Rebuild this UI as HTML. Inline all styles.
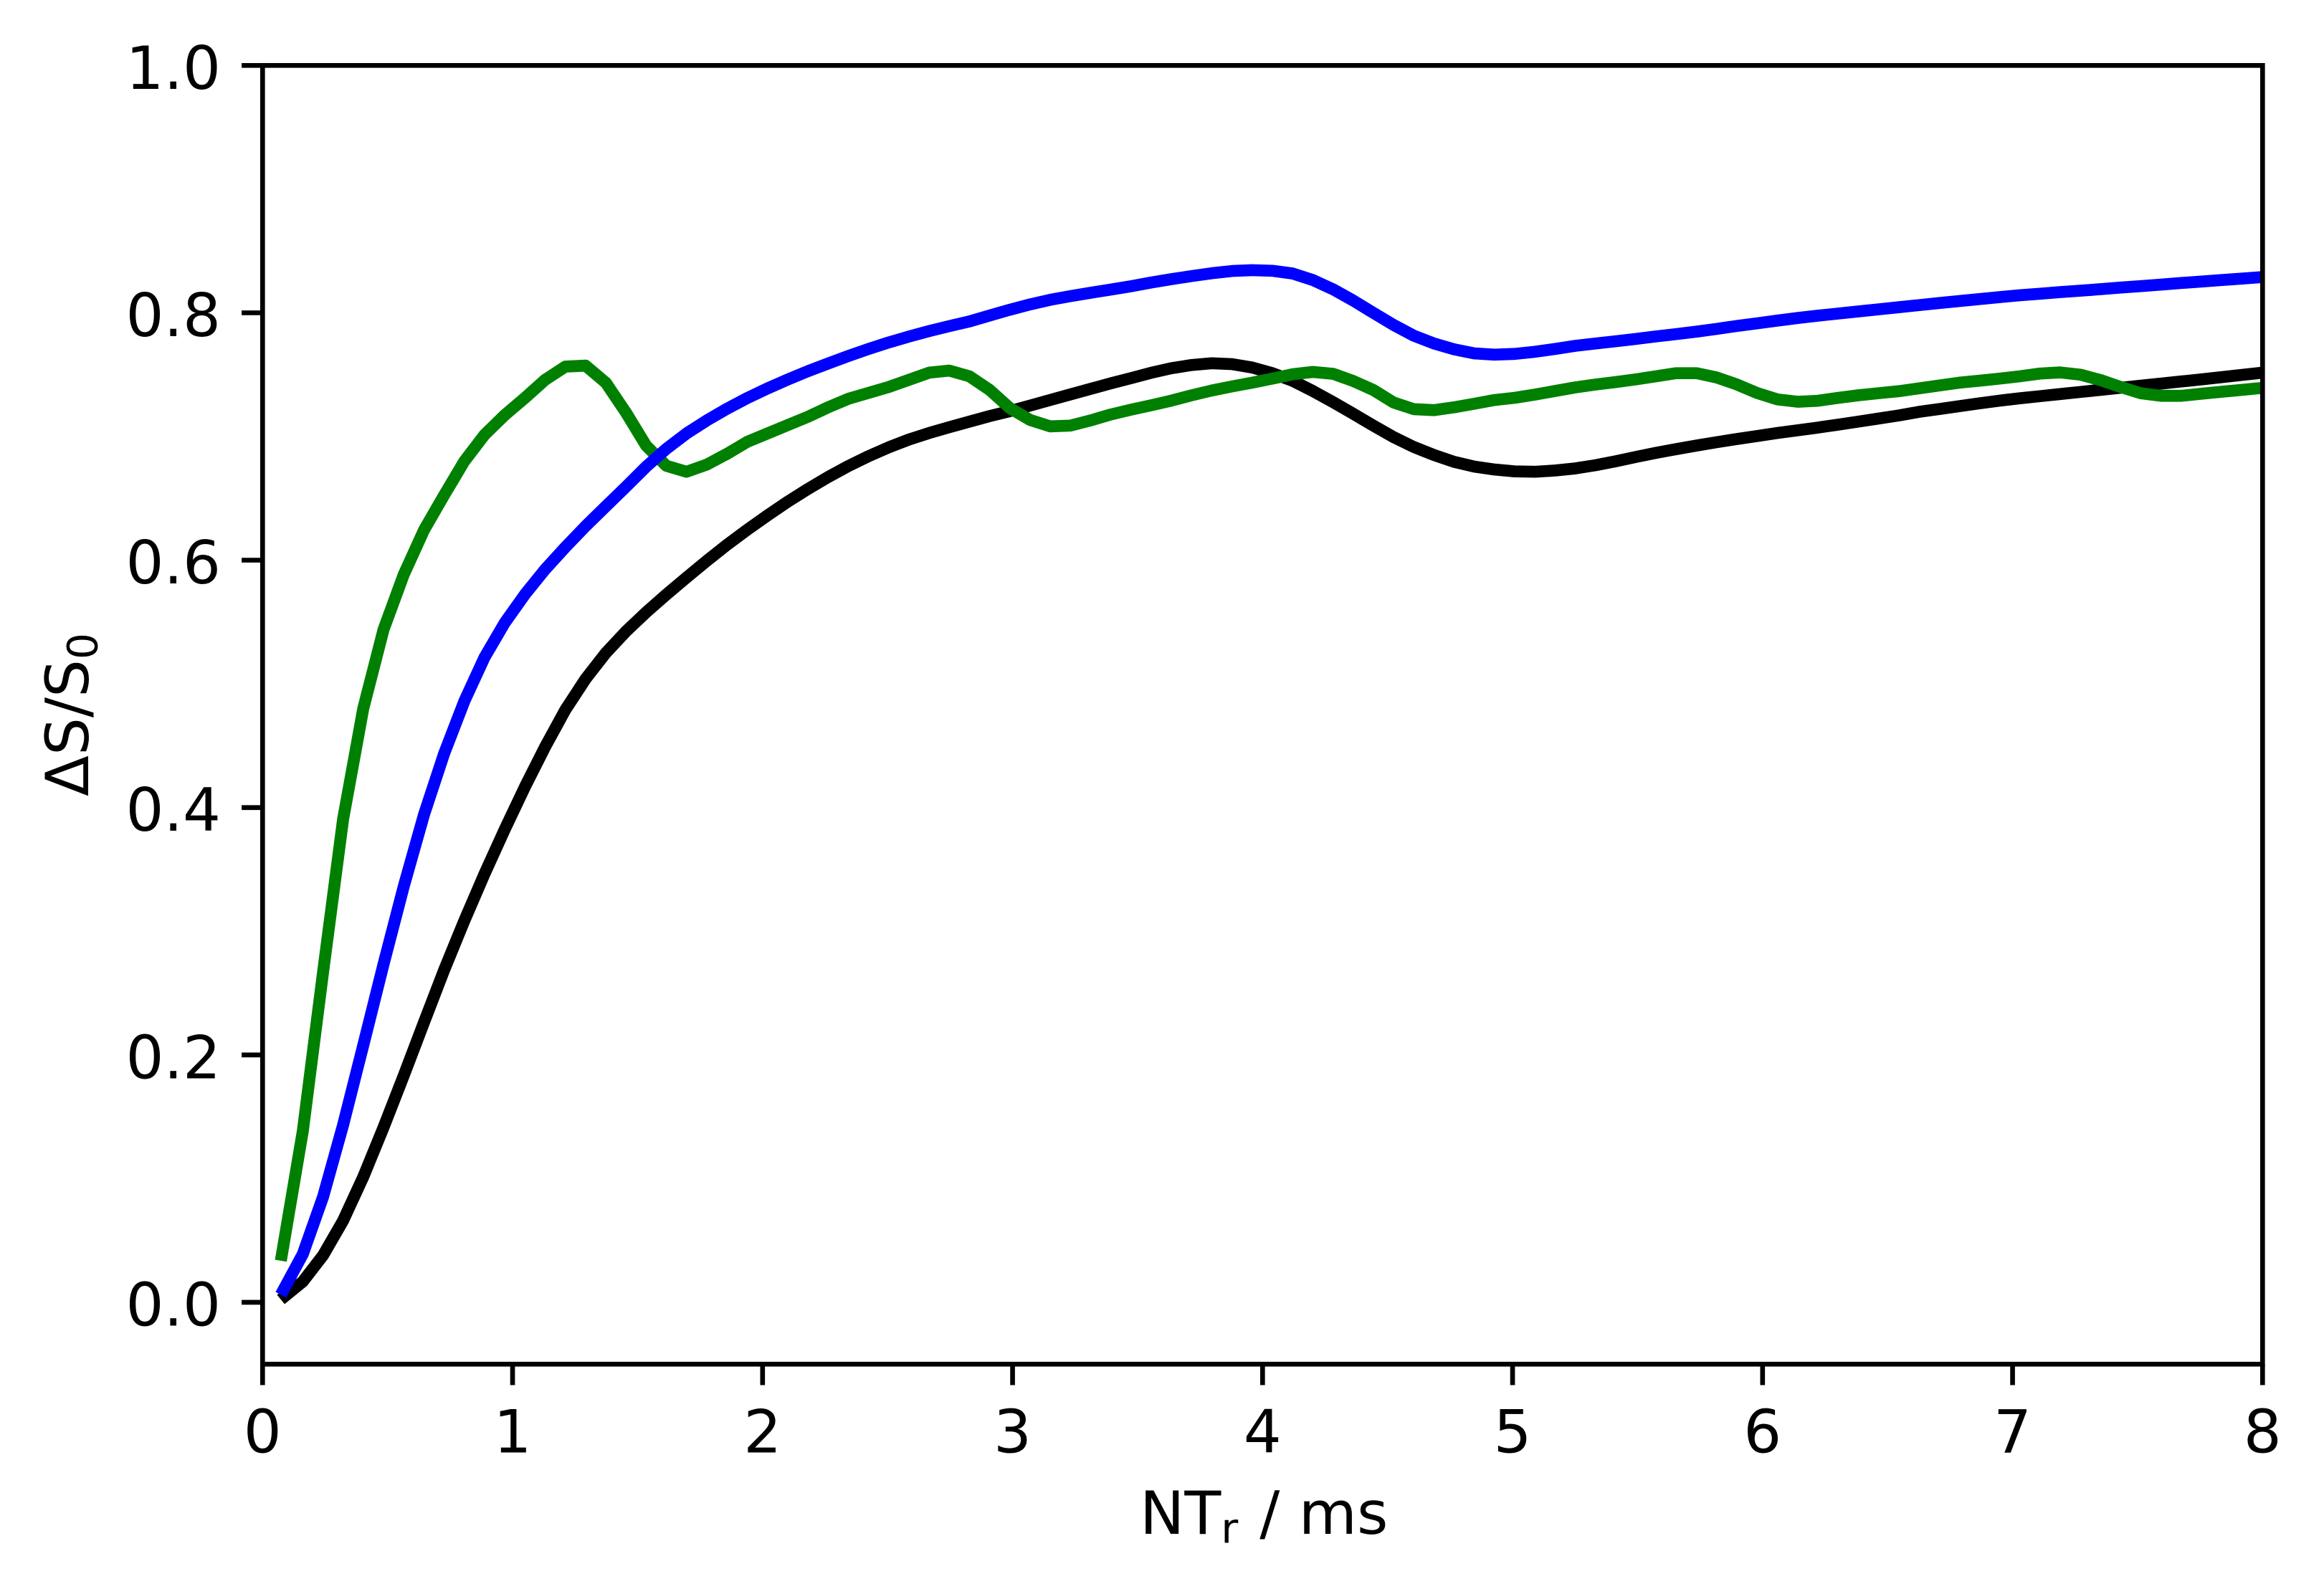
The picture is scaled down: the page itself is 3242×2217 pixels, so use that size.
<!DOCTYPE html>
<html lang="en">
<head>
<meta charset="utf-8">
<title>Delta S over S0 versus NTr</title>
<style>
html,body{margin:0;padding:0;background:#fff;}
svg{display:block;}
text{font-family:"DejaVu Sans","Liberation Sans",sans-serif;font-size:83.33px;fill:#000;}
</style>
</head>
<body>
<svg id="chart" xmlns="http://www.w3.org/2000/svg" width="3242" height="2217" viewBox="0 0 3242 2217">
  <rect x="0" y="0" width="3242" height="2217" fill="#ffffff"/>
  <defs>
    <clipPath id="plot-clip"><rect x="366.3" y="91.3" width="2790" height="1812"/></clipPath>
  </defs>
  <g id="series-layer" clip-path="url(#plot-clip)"></g>
  <g id="tick-layer"></g>
  <g id="spine-layer"></g>
  <text x="1590" y="2140">NT<tspan dy="12.7" style="font-size:58.33px">r</tspan><tspan dy="-12.7" dx="3.5" xml:space="preserve"> / ms</tspan></text>
  <text transform="translate(123 1111) rotate(-90)" x="0" y="0">ΔS/S<tspan dy="12.7" style="font-size:58.33px">0</tspan></text>
</svg>
<script>
const xDomain = [0, 8];
const yDomain = [-0.05, 1.0];
const xTickLabels = ["0", "1", "2", "3", "4", "5", "6", "7", "8"];
const yTickLabels = ["0.0", "0.2", "0.4", "0.6", "0.8", "1.0"];
const nTr = [
  0.073,0.161,0.242,0.322,0.403,0.484,0.565,0.646,0.726,0.807,
  0.888,0.969,1.050,1.130,1.211,1.292,1.373,1.454,1.534,1.615,
  1.696,1.777,1.858,1.938,2.019,2.100,2.181,2.262,2.342,2.423,
  2.504,2.585,2.666,2.746,2.827,2.908,2.989,3.070,3.150,3.231,
  3.312,3.393,3.474,3.554,3.635,3.716,3.797,3.878,3.958,4.039,
  4.120,4.201,4.282,4.362,4.443,4.524,4.605,4.686,4.766,4.847,
  4.928,5.009,5.090,5.170,5.251,5.332,5.413,5.494,5.574,5.655,
  5.736,5.817,5.898,5.978,6.059,6.140,6.221,6.302,6.382,6.463,
  6.544,6.625,6.706,6.786,6.867,6.948,7.029,7.110,7.190,7.271,
  7.352,7.433,7.514,7.594,7.675,7.756,7.837,7.918,8.000
];
const signalBlack = [
  .0023,.0168,.038,.066,.1015,.1415,.1835,.2265,.2685,.3085,
  .3465,.3825,.417,.449,.479,.504,.525,.5425,.5578,.5722,
  .586,.5995,.6125,.6245,.6361,.6472,.6575,.6672,.676,.684,
  .6912,.6975,.7028,.7075,.712,.7165,.7205,.725,.7295,.734,
  .7385,.743,.7472,.7515,.7552,.7578,.7592,.7585,.7558,.7512,
  .745,.7368,.7278,.7185,.7088,.6995,.6915,.685,.6795,.6757,
  .6733,.6718,.6715,.6725,.6742,.6768,.68,.6835,.6868,.6898,
  .6927,.6954,.698,.7004,.7028,.705,.7072,.7096,.712,.7145,
  .717,.7199,.7222,.7245,.7268,.729,.7309,.7326,.7343,.736,
  .7377,.7394,.7411,.7428,.7445,.7462,.748,.7498,.7516
];
const signalGreen = [
  .0336,.1385,.267,.3905,.4803,.544,.5885,.6245,.6525,.68,
  .7014,.7174,.7313,.7458,.7565,.7573,.7435,.7192,.6927,.6763,
  .6715,.6773,.686,.6956,.7024,.7092,.7159,.7236,.7304,.7352,
  .74,.7458,.7516,.7533,.7487,.7377,.723,.7134,.7082,.7088,
  .713,.7178,.7217,.7252,.729,.7333,.7372,.7405,.7435,.7468,
  .7503,.7522,.7507,.7449,.7376,.7275,.7221,.7213,.7236,.7265,
  .7295,.7313,.7339,.7368,.7397,.742,.744,.7462,.7487,.7512,
  .7512,.7477,.742,.7352,.73,.7281,.7289,.7312,.7333,.735,
  .7366,.7389,.7412,.7435,.7451,.7468,.7487,.7509,.7518,.75,
  .7456,.74,.7349,.7329,.7329,.7346,.7362,.7377,.7393
];
const signalBlue = [
  .0061,.039,.0853,.1433,.208,.2735,.3365,.3945,.4435,.486,
  .5215,.5495,.5725,.5925,.6105,.6275,.6435,.6594,.6755,.69,
  .7025,.713,.7225,.731,.7388,.746,.7528,.759,.765,.7707,
  .776,.7808,.7852,.7892,.793,.7978,.8025,.8068,.8105,.8135,
  .8162,.8188,.8215,.8245,.8272,.8297,.832,.8338,.8345,.834,
  .8318,.8265,.819,.81,.8,.7902,.7815,.7752,.7705,.7672,
  .7662,.7668,.7685,.7708,.7733,.7752,.777,.7789,.7809,.7828,
  .7848,.787,.7894,.7915,.7937,.7958,.7977,.7994,.8011,.8028,
  .8045,.8062,.8079,.8095,.8111,.8127,.8142,.8154,.8167,.8179,
  .8191,.8204,.8216,.8228,.8241,.8253,.8265,.8277,.8289
];

const SVG_NS = "http://www.w3.org/2000/svg";
const plotLeft = 366.3, plotRight = 3156.3, plotTop = 91.3, plotBottom = 1903.3;
const tickLen = 29.2, tickWidth = 6.67, lineWidth = 16.67;

function xScale(v) {
  return plotLeft + (v - xDomain[0]) / (xDomain[1] - xDomain[0]) * (plotRight - plotLeft);
}
function yScale(v) {
  return plotBottom - (v - yDomain[0]) / (yDomain[1] - yDomain[0]) * (plotBottom - plotTop);
}
function make(tag) {
  return document.createElementNS(SVG_NS, tag);
}
function drawSeries(values, color, name) {
  const el = make("polyline");
  
  
  el.setAttribute("points", values.map((v, i) => xScale(nTr[i]).toFixed(2) + "," + yScale(v).toFixed(2)).join(" "));
  el.setAttribute("fill", "none");
  el.setAttribute("stroke", color);
  el.setAttribute("stroke-width", lineWidth);
  el.setAttribute("stroke-linejoin", "round");
  el.setAttribute("stroke-linecap", "butt");
  document.getElementById("series-layer").appendChild(el);
}
drawSeries(signalBlack, "#000000", "series-black-line");
drawSeries(signalGreen, "#008000", "series-green-line");
drawSeries(signalBlue, "#0000ff", "series-blue-line");

const tickLayer = document.getElementById("tick-layer");
xTickLabels.forEach(function (label) {
  const px = xScale(parseFloat(label));
  const tick = make("line");
  
  
  tick.setAttribute("x1", px);
  tick.setAttribute("x2", px);
  tick.setAttribute("y1", plotBottom);
  tick.setAttribute("y2", plotBottom + tickLen);
  tick.setAttribute("stroke", "#000");
  tick.setAttribute("stroke-width", tickWidth);
  tickLayer.appendChild(tick);
  const text = make("text");
  
  
  text.setAttribute("x", px);
  text.setAttribute("y", 2026.5);
  text.setAttribute("text-anchor", "middle");
  text.textContent = label;
  tickLayer.appendChild(text);
});
yTickLabels.forEach(function (label) {
  const py = yScale(parseFloat(label));
  const tick = make("line");
  
  
  tick.setAttribute("x1", plotLeft - tickLen);
  tick.setAttribute("x2", plotLeft);
  tick.setAttribute("y1", py);
  tick.setAttribute("y2", py);
  tick.setAttribute("stroke", "#000");
  tick.setAttribute("stroke-width", tickWidth);
  tickLayer.appendChild(tick);
  const text = make("text");
  
  
  text.setAttribute("x", 308);
  text.setAttribute("y", py + 32.5);
  text.setAttribute("text-anchor", "end");
  text.textContent = label;
  tickLayer.appendChild(text);
});

const frame = make("rect");


frame.setAttribute("x", plotLeft);
frame.setAttribute("y", plotTop);
frame.setAttribute("width", plotRight - plotLeft);
frame.setAttribute("height", plotBottom - plotTop);
frame.setAttribute("fill", "none");
frame.setAttribute("stroke", "#000");
frame.setAttribute("stroke-width", tickWidth);
frame.setAttribute("stroke-linejoin", "miter");
document.getElementById("spine-layer").appendChild(frame);
</script>
</body>
</html>
